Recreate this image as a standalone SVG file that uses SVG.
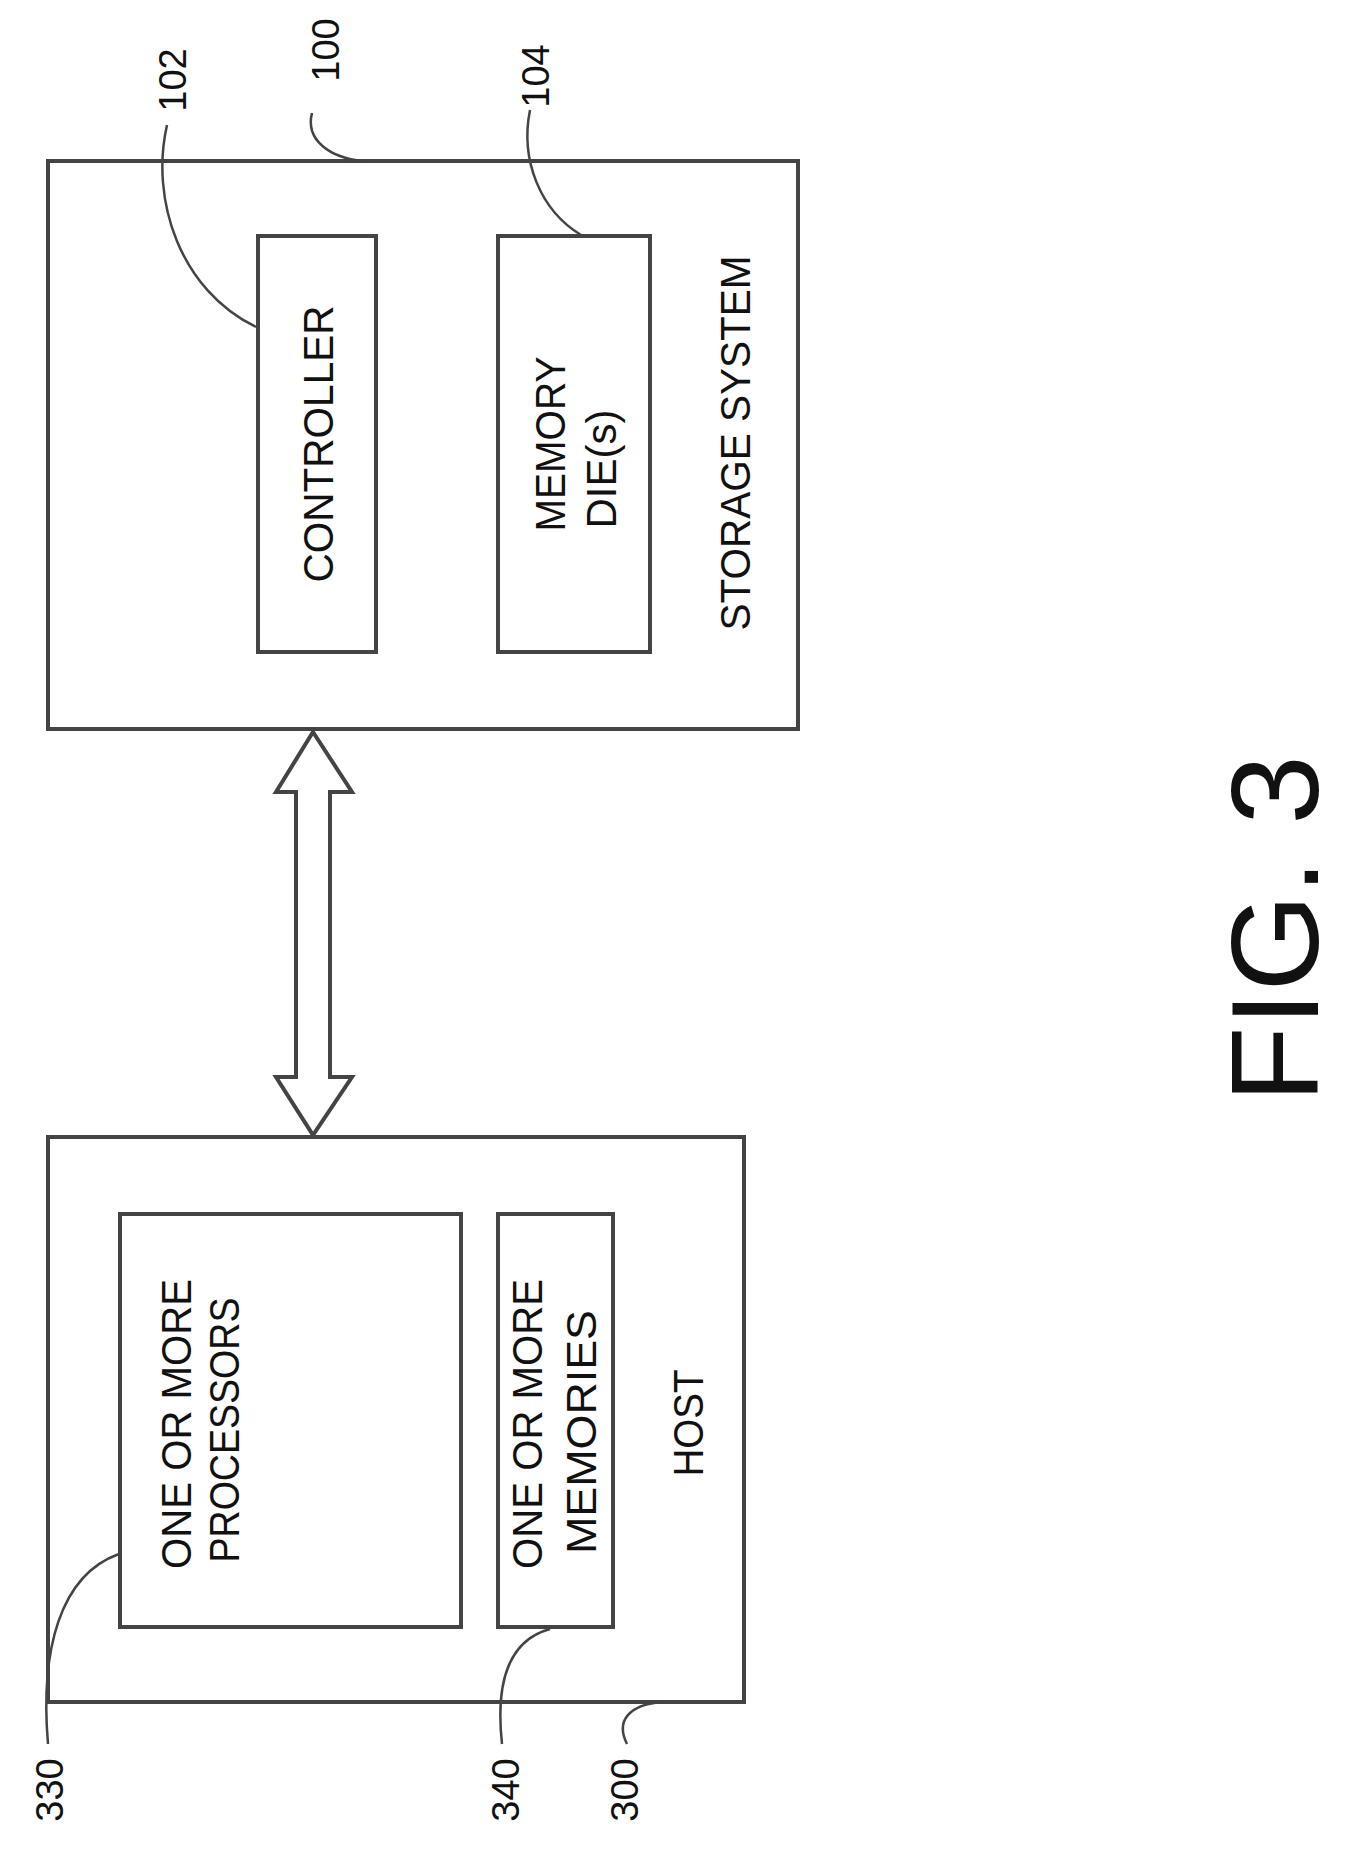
<svg xmlns="http://www.w3.org/2000/svg" width="1346" height="1863" viewBox="0 0 1346 1863">
<style>
.b{fill:none;stroke:#444;stroke-width:4}
.l{fill:none;stroke:#444;stroke-width:2.5}
.t{font-family:"Liberation Sans",Arial,sans-serif;font-size:42px;fill:#111;text-anchor:middle}
.n{font-family:"Liberation Sans",Arial,sans-serif;font-size:38px;fill:#111;text-anchor:middle}
</style>
<rect width="1346" height="1863" fill="#fff"/>
<g id="storage">
<rect class="b" x="48" y="161" width="750" height="568"/>
<text class="t" transform="translate(750,443) rotate(-90)" textLength="375" lengthAdjust="spacingAndGlyphs">STORAGE SYSTEM</text>
</g>
<g id="controller">
<rect class="b" x="258" y="236" width="118" height="416"/>
<text class="t" transform="translate(333,444) rotate(-90)" textLength="277" lengthAdjust="spacingAndGlyphs">CONTROLLER</text>
</g>
<g id="memory">
<rect class="b" x="498" y="236" width="152" height="416"/>
<text class="t" transform="translate(565,444) rotate(-90)" textLength="175" lengthAdjust="spacingAndGlyphs">MEMORY</text>
<text class="t" transform="translate(616,469) rotate(-90)">DIE(s)</text>
</g>
<g id="host">
<rect class="b" x="48" y="1137" width="696" height="565"/>
<text class="t" transform="translate(703,1423) rotate(-90)" textLength="107" lengthAdjust="spacingAndGlyphs">HOST</text>
</g>
<g id="processors">
<rect class="b" x="120" y="1214" width="341" height="413"/>
<text class="t" transform="translate(191,1424) rotate(-90)" textLength="290" lengthAdjust="spacingAndGlyphs">ONE OR MORE</text>
<text class="t" transform="translate(239,1430) rotate(-90)" textLength="265" lengthAdjust="spacingAndGlyphs">PROCESSORS</text>
</g>
<g id="memories">
<rect class="b" x="498" y="1214" width="115" height="413"/>
<text class="t" transform="translate(542,1424) rotate(-90)" textLength="290" lengthAdjust="spacingAndGlyphs">ONE OR MORE</text>
<text class="t" transform="translate(596,1432) rotate(-90)" textLength="244" lengthAdjust="spacingAndGlyphs">MEMORIES</text>
</g>
<g id="connectors">
<path class="b" d="M313,732 L352,792 L330,792 L330,1077 L352,1077 L313,1135 L276,1077 L296,1077 L296,792 L276,792 Z" fill="#fff"/>
<path class="l" d="M167,125 C150,200 180,290 256,327"/>
<path class="l" d="M312,113 C305,140 330,158 363,161"/>
<path class="l" d="M530,110 C520,160 540,210 581,235"/>
<path class="l" d="M48,1744 C40,1650 60,1575 119,1554"/>
<path class="l" d="M502,1744 C495,1680 510,1640 550,1629"/>
<path class="l" d="M627,1744 C615,1720 630,1705 661,1702"/>
</g>
<g id="labels">
<text class="n" transform="translate(186,80) rotate(-90)">102</text>
<text class="n" transform="translate(339,50) rotate(-90)">100</text>
<text class="n" transform="translate(549,76) rotate(-90)">104</text>
<text class="n" transform="translate(63,1790) rotate(-90)">330</text>
<text class="n" transform="translate(519,1790) rotate(-90)">340</text>
<text class="n" transform="translate(638,1790) rotate(-90)">300</text>
<text class="t" style="font-size:125px" transform="translate(1318,929) rotate(-90)">FIG. 3</text>
</g>
</svg>
